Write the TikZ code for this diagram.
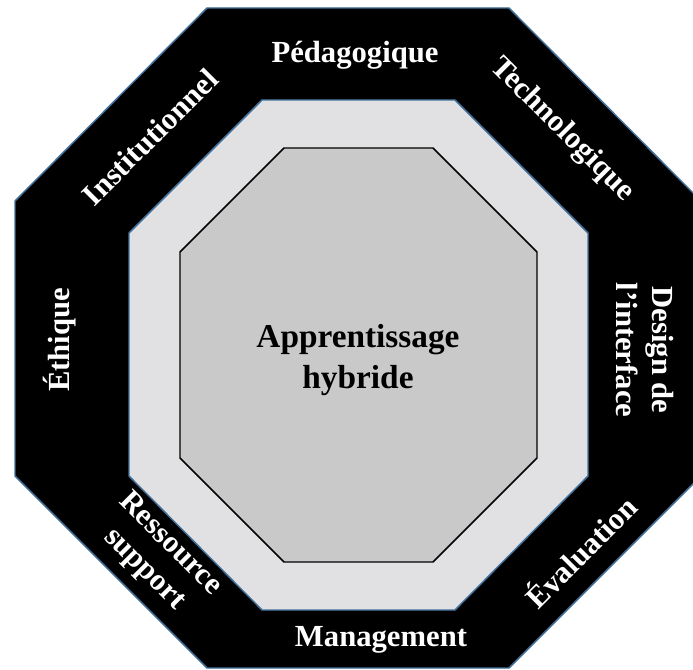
\documentclass[tikz,border=0pt]{standalone}
\usepackage{fontspec}
\setmainfont{Liberation Serif}
\usetikzlibrary{positioning}
\definecolor{edgeblue}{RGB}{65,113,156}
\definecolor{ringgray}{RGB}{225,225,228}
\definecolor{coregray}{RGB}{201,201,201}

\begin{document}
\begin{tikzpicture}[x=0.75pt,y=-0.75pt,
  lbl/.style={text=white,font=\fontsize{23}{27}\selectfont\bfseries,align=center,inner sep=0pt},
  ctr/.style={text=black,font=\fontsize{25}{31}\selectfont\bfseries,align=center,inner sep=0pt}]
  \useasboundingbox (0,0) rectangle (693,670);
  \clip (0,0) rectangle (693,670);
  % outer ring
  \draw[edgeblue,line width=1.1pt,fill=black] (207,8) -- (509,8) -- (701,201) -- (701,476)
       -- (509,668) -- (207,668) -- (15,476) -- (15,201) -- cycle;
  % middle ring
  \draw[edgeblue,line width=1.1pt,fill=ringgray] (262,100) -- (455,100) -- (588,233) -- (588,476)
       -- (455,610) -- (262,610) -- (129,476) -- (129,233) -- cycle;
  % core
  \draw[black,line width=1.1pt,fill=coregray] (284,148) -- (433,148) -- (537,252) -- (537,458)
       -- (433,562) -- (284,562) -- (180,458) -- (180,252) -- cycle;

  \node[ctr] (core) at (358,360) {Apprentissage\\hybride};

  \node[lbl] (peda) at (355,55) {Pédagogique};
  \node[lbl,rotate=-45] (tech) at (562,130) {Technologique};
  \node[lbl,rotate=-90] (design) at (645,350) {Design de\\l’interface};
  \node[lbl,rotate=45] (eval) at (580,551) {Évaluation};
  \node[lbl] (mgmt) at (381,640) {Management};
  \node[lbl,rotate=-45] (ress) at (157,557) {Ressource\\support};
  \node[lbl,rotate=90] (ethique) at (60,340) {Éthique};
  \node[lbl,rotate=45] (inst) at (150,137) {Institutionnel};
\end{tikzpicture}
\end{document}
